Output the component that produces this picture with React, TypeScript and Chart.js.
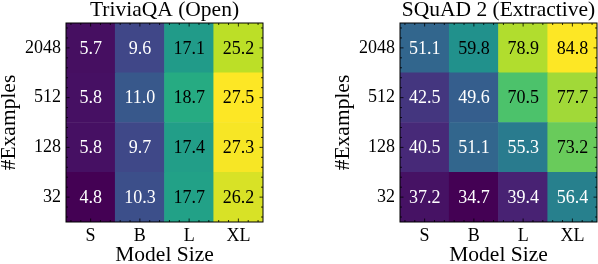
import React, { useEffect, useRef } from "react";
import { Chart, registerables } from "chart.js";

Chart.register(...registerables);

// ---- data ----
const modelSizes = ["S", "B", "L", "XL"];
const exampleCounts = ["32", "128", "512", "2048"]; // bottom -> top

const trivia32 = [4.8, 10.3, 17.7, 26.2];
const trivia128 = [5.8, 9.7, 17.4, 27.3];
const trivia512 = [5.8, 11.0, 18.7, 27.5];
const trivia2048 = [5.7, 9.6, 17.1, 25.2];

const squad32 = [37.2, 34.7, 39.4, 56.4];
const squad128 = [40.5, 51.1, 55.3, 73.2];
const squad512 = [42.5, 49.6, 70.5, 77.7];
const squad2048 = [51.1, 59.8, 78.9, 84.8];

const triviaTitle = "TriviaQA (Open)";
const squadTitle = "SQuAD 2 (Extractive)";

// ---- viridis colormap stops ----
const VIRIDIS = [
  "#440154", "#482475", "#414487", "#355f8d", "#2a788e", "#21918c",
  "#22a884", "#44bf70", "#7ad151", "#bddf26", "#fde725",
];
function hexToRgb(h: string) {
  return [parseInt(h.slice(1, 3), 16), parseInt(h.slice(3, 5), 16), parseInt(h.slice(5, 7), 16)];
}
function viridis(t: number) {
  const tt = Math.max(0, Math.min(1, t)) * (VIRIDIS.length - 1);
  const i = Math.min(Math.floor(tt), VIRIDIS.length - 2);
  const f = tt - i;
  const a = hexToRgb(VIRIDIS[i]);
  const b = hexToRgb(VIRIDIS[i + 1]);
  const c = a.map((v, k) => Math.round(v + (b[k] - v) * f));
  return `rgb(${c[0]},${c[1]},${c[2]})`;
}

const FONT = "'Liberation Serif', 'Times New Roman', serif";

const cellTextPlugin = {
  id: "cellText",
  afterDatasetsDraw(chart: any) {
    const ctx = chart.ctx;
    const { lo, hi } = chart.options.plugins.cellText;
    ctx.save();
    ctx.font = `18px ${FONT}`;
    ctx.textAlign = "center";
    ctx.textBaseline = "middle";
    chart.data.datasets.forEach((ds: any, di: number) => {
      const meta = chart.getDatasetMeta(di);
      meta.data.forEach((bar: any, ci: number) => {
        const v = ds.values[ci];
        const p = bar.getProps(["x", "y", "base"], true);
        const n = (v - lo) / (hi - lo);
        ctx.fillStyle = n < 0.5 ? "#ffffff" : "#000000";
        ctx.fillText(v.toFixed(1), p.x, (p.y + p.base) / 2 + 1);
      });
    });
    ctx.restore();
  },
};

const framePlugin = {
  id: "frame",
  afterDraw(chart: any) {
    const ctx = chart.ctx;
    const { left, right, top, bottom } = chart.chartArea;
    const nx = modelSizes.length;
    const ny = exampleCounts.length;
    const w = (right - left) / nx;
    const h = (bottom - top) / ny;
    ctx.save();
    ctx.strokeStyle = "#000";
    ctx.lineWidth = 0.8;
    ctx.beginPath();
    const xPix = (v: number) => left + (v + 0.5) * w;
    const yPix = (v: number) => bottom - (v + 0.5) * h;
    const minorOffsets = [0.2, 0.4, 0.6, 0.8];
    const xs: [number, number][] = [];
    const ys: [number, number][] = [];
    for (let i = -1; i < nx; i++) {
      if (i >= 0) xs.push([i, 3.5]);
      minorOffsets.forEach((o) => {
        const v = i + o;
        if (v > -0.5 && v < nx - 0.5) xs.push([v, 2]);
      });
    }
    for (let i = -1; i < ny; i++) {
      if (i >= 0) ys.push([i, 3.5]);
      minorOffsets.forEach((o) => {
        const v = i + o;
        if (v > -0.5 && v < ny - 0.5) ys.push([v, 2]);
      });
    }
    xs.forEach(([v, len]) => {
      const x = xPix(v);
      ctx.moveTo(x, bottom);
      ctx.lineTo(x, bottom - len);
      ctx.moveTo(x, top);
      ctx.lineTo(x, top + len);
    });
    ys.forEach(([v, len]) => {
      const y = yPix(v);
      ctx.moveTo(left, y);
      ctx.lineTo(left + len, y);
      ctx.moveTo(right, y);
      ctx.lineTo(right - len, y);
    });
    ctx.stroke();
    ctx.lineWidth = 1;
    ctx.strokeRect(left, top, right - left, bottom - top);
    ctx.restore();
  },
};

function Heatmap({ title, rows, left }: { title: string; rows: number[][]; left: number }) {
  const ref = useRef<HTMLCanvasElement>(null);
  useEffect(() => {
    const all = rows.flat();
    const lo = Math.min(...all);
    const hi = Math.max(...all);
    const datasets = rows.map((row, r) => ({
      label: exampleCounts[r],
      values: row,
      data: row.map(() => [r - 0.5, r + 0.5]),
      backgroundColor: row.map((v) => viridis((v - lo) / (hi - lo))),
      borderWidth: 0,
      grouped: false,
      barPercentage: 1,
      categoryPercentage: 1,
    }));
    const chart = new Chart(ref.current!, {
      type: "bar",
      data: { labels: modelSizes, datasets: datasets as any },
      plugins: [cellTextPlugin, framePlugin],
      options: {
        animation: false,
        responsive: false,
        events: [],
        layout: { padding: { top: 0, right: 1, bottom: 0, left: 0 } },
        plugins: {
          legend: { display: false },
          tooltip: { enabled: false },
          title: {
            display: true,
            text: title,
            fullSize: false,
            color: "#000",
            font: { family: FONT, size: 21.5, weight: "normal", lineHeight: 1 },
            padding: { top: 0, bottom: 1.5 },
          },
          cellText: { lo, hi },
        } as any,
        scales: {
          x: {
            type: "category",
            grid: { display: false, drawTicks: false },
            border: { display: false },
            ticks: { color: "#000", padding: 3, font: { family: FONT, size: 18 }, autoSkip: false, maxRotation: 0 },
            title: {
              display: true,
              text: "Model Size",
              color: "#000",
              font: { family: FONT, size: 21.5, lineHeight: 0.84 },
              padding: 0,
            },
            afterFit(scale: any) {
              scale.height = 42;
            },
          },
          y: {
            type: "linear",
            min: -0.5,
            max: exampleCounts.length - 0.5,
            grid: { display: false, drawTicks: false },
            border: { display: false },
            afterBuildTicks(scale: any) {
              scale.ticks = exampleCounts.map((_, i) => ({ value: i }));
            },
            ticks: {
              color: "#000",
              padding: 5,
              font: { family: FONT, size: 18 },
              autoSkip: false,
              callback: (v: any) => exampleCounts[Math.round(Number(v))] ?? "",
            },
            title: {
              display: true,
              text: "#Examples",
              color: "#000",
              font: { family: FONT, size: 21.5, lineHeight: 0.84 },
              padding: 0,
            },
            afterFit(scale: any) {
              scale.width = 66;
            },
          },
        },
      } as any,
    });
    return () => chart.destroy();
  }, [title, rows]);
  return (
    <canvas
      ref={ref}
      width={264}
      height={264}
      style={{ position: "absolute", left, top: 0, width: 264, height: 264, display: "block" }}
    />
  );
}

const triviaRows = [trivia32, trivia128, trivia512, trivia2048];
const squadRows = [squad32, squad128, squad512, squad2048];

export default function App() {
  return (
    <div style={{ position: "fixed", left: 0, top: 0, width: 598, height: 264, background: "#fff" }}>
      <Heatmap title={triviaTitle} rows={triviaRows} left={0} />
      <Heatmap title={squadTitle} rows={squadRows} left={334} />
    </div>
  );
}
